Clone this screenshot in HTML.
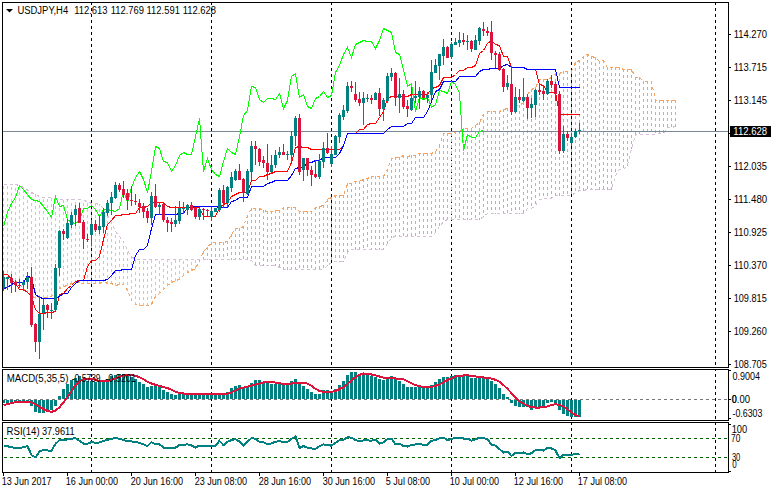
<!DOCTYPE html><html><head><meta charset="utf-8"><style>html,body{margin:0;padding:0;background:#fff;width:771px;height:493px;overflow:hidden;}svg text{font-family:"Liberation Sans",sans-serif;}</style></head><body><svg width="771" height="493" viewBox="0 0 771 493" style="position:absolute;left:0;top:0">
<defs><clipPath id="cm"><rect x="3" y="3" width="725" height="364"/></clipPath><clipPath id="cd"><rect x="3" y="370" width="725" height="50"/></clipPath><clipPath id="cr"><rect x="3" y="423" width="725" height="49"/></clipPath></defs>
<g stroke="#000" stroke-width="1" stroke-dasharray="3 3" shape-rendering="crispEdges"><line x1="91.5" y1="2" x2="91.5" y2="367" stroke-dashoffset="0"/><line x1="91.5" y1="370" x2="91.5" y2="420" stroke-dashoffset="2"/><line x1="91.5" y1="423" x2="91.5" y2="472" stroke-dashoffset="1"/><line x1="211.5" y1="2" x2="211.5" y2="367" stroke-dashoffset="0"/><line x1="211.5" y1="370" x2="211.5" y2="420" stroke-dashoffset="2"/><line x1="211.5" y1="423" x2="211.5" y2="472" stroke-dashoffset="1"/><line x1="331.5" y1="2" x2="331.5" y2="367" stroke-dashoffset="0"/><line x1="331.5" y1="370" x2="331.5" y2="420" stroke-dashoffset="2"/><line x1="331.5" y1="423" x2="331.5" y2="472" stroke-dashoffset="1"/><line x1="451.5" y1="2" x2="451.5" y2="367" stroke-dashoffset="0"/><line x1="451.5" y1="370" x2="451.5" y2="420" stroke-dashoffset="2"/><line x1="451.5" y1="423" x2="451.5" y2="472" stroke-dashoffset="1"/><line x1="571.5" y1="2" x2="571.5" y2="367" stroke-dashoffset="0"/><line x1="571.5" y1="370" x2="571.5" y2="420" stroke-dashoffset="2"/><line x1="571.5" y1="423" x2="571.5" y2="472" stroke-dashoffset="1"/><line x1="715.5" y1="2" x2="715.5" y2="367" stroke-dashoffset="0"/><line x1="715.5" y1="370" x2="715.5" y2="420" stroke-dashoffset="2"/><line x1="715.5" y1="423" x2="715.5" y2="472" stroke-dashoffset="1"/></g>
<g clip-path="url(#cm)">
<path d="M203.5 251V260M207.5 247V260M211.5 242V260M215.5 242V260M219.5 242V260M223.5 242V260M227.5 241V260M231.5 234V260M235.5 228V260M239.5 228V260M243.5 226V260M247.5 215V260M251.5 208V261M255.5 208V266M259.5 208V266M263.5 210V266M267.5 211V266M271.5 211V266M275.5 210V266M279.5 210V268M283.5 207V270M287.5 207V270M291.5 207V270M295.5 207V270M299.5 211V270M303.5 211V270M307.5 211V270M311.5 211V270M315.5 207V270M319.5 206V270M323.5 205V270M327.5 199V266M331.5 197V263M335.5 195V262M339.5 195V262M343.5 195V262M347.5 183V253M351.5 183V250M355.5 181V250M359.5 181V250M363.5 179V250M367.5 178V250M371.5 176V250M375.5 176V250M379.5 176V250M383.5 176V250M387.5 169V244M391.5 158V238M395.5 157V237M399.5 157V237M403.5 155V237M407.5 156V237M411.5 155V237M415.5 155V237M419.5 153V237M423.5 153V237M427.5 153V237M431.5 153V237M435.5 151V233M439.5 145V227M443.5 133V222M447.5 133V220M451.5 133V220M455.5 131V220M459.5 131V220M463.5 128V220M467.5 128V220M471.5 128V220M475.5 125V220M479.5 122V220M483.5 114V217M487.5 111V214M491.5 111V214M495.5 111V214M499.5 111V214M503.5 109V214M507.5 108V214M511.5 106V214M515.5 105V214M519.5 105V214M523.5 102V214M527.5 94V209M531.5 89V209M535.5 87V206M539.5 79V200M543.5 79V199M547.5 79V199M551.5 77V199M555.5 73V196M559.5 73V196M563.5 71V196M567.5 71V196M571.5 71V196M575.5 62V193M579.5 60V191M583.5 56V191M587.5 54V190M591.5 56V190M595.5 57V190M599.5 61V190M603.5 60V190M607.5 67V190M611.5 67V190M615.5 67V176M619.5 67V170M623.5 69V170M627.5 69V166M631.5 69V149M635.5 77V135M639.5 77V135M643.5 81V135M647.5 81V135M651.5 81V135M655.5 100V135M659.5 100V134M663.5 100V134M667.5 100V128M671.5 100V128M675.5 100V127" stroke="#F4A460" stroke-width="1" stroke-dasharray="3 3" fill="none" shape-rendering="crispEdges"/>
<path d="M3.5 279V184M7.5 279V184M11.5 280V184M15.5 281V184M19.5 285V185M23.5 289V187M27.5 293V189M31.5 296V192M35.5 299V194M39.5 298V196M43.5 298V197M47.5 298V197M51.5 297V197M55.5 293V199M59.5 289V199M63.5 287V199M67.5 286V199M71.5 284V199M75.5 283V199M79.5 283V199M83.5 284V200M87.5 284V201M91.5 284V203M95.5 284V203M99.5 284V204M103.5 282V208M107.5 284V215M111.5 284V222M115.5 286V231M119.5 285V236M123.5 285V241M127.5 291V250M131.5 301V256M135.5 305V259M139.5 306V259M143.5 306V259M147.5 306V259M151.5 305V259M155.5 297V259M159.5 294V259M163.5 290V259M167.5 286V259M171.5 283V259M175.5 281V259M179.5 280V259M183.5 276V259M187.5 273V259M191.5 271V259M195.5 269V259M199.5 261V259" stroke="#D8BFD8" stroke-width="1" stroke-dasharray="3 3" fill="none" shape-rendering="crispEdges"/>
<polyline points="3.5,278.5 7.5,278.5 11.5,279.5 15.5,280.5 19.5,284.5 23.5,288.5 27.5,292.5 31.5,295.5 35.5,298.5 39.5,297.5 43.5,297.5 47.5,297.5 51.5,296.5 55.5,292.5 59.5,288.5 63.5,286.5 67.5,285.5 71.5,283.5 75.5,282.5 79.5,282.5 83.5,283.5 87.5,283.5 91.5,283.5 95.5,283.5 99.5,283.5 103.5,281.5 107.5,283.5 111.5,283.5 115.5,285.5 119.5,284.5 123.5,284.5 127.5,290.5 131.5,300.5 135.5,304.5 139.5,305.5 143.5,305.5 147.5,305.5 151.5,304.5 155.5,296.5 159.5,293.5 163.5,289.5 167.5,285.5 171.5,282.5 175.5,280.5 179.5,279.5 183.5,275.5 187.5,272.5 191.5,270.5 195.5,268.5 199.5,260.5 203.5,251.5 207.5,247.5 211.5,242.5 215.5,242.5 219.5,242.5 223.5,242.5 227.5,241.5 231.5,234.5 235.5,228.5 239.5,228.5 243.5,226.5 247.5,215.5 251.5,208.5 255.5,208.5 259.5,208.5 263.5,210.5 267.5,211.5 271.5,211.5 275.5,210.5 279.5,210.5 283.5,207.5 287.5,207.5 291.5,207.5 295.5,207.5 299.5,211.5 303.5,211.5 307.5,211.5 311.5,211.5 315.5,207.5 319.5,206.5 323.5,205.5 327.5,199.5 331.5,197.5 335.5,195.5 339.5,195.5 343.5,195.5 347.5,183.5 351.5,183.5 355.5,181.5 359.5,181.5 363.5,179.5 367.5,178.5 371.5,176.5 375.5,176.5 379.5,176.5 383.5,176.5 387.5,169.5 391.5,158.5 395.5,157.5 399.5,157.5 403.5,155.5 407.5,156.5 411.5,155.5 415.5,155.5 419.5,153.5 423.5,153.5 427.5,153.5 431.5,153.5 435.5,151.5 439.5,145.5 443.5,133.5 447.5,133.5 451.5,133.5 455.5,131.5 459.5,131.5 463.5,128.5 467.5,128.5 471.5,128.5 475.5,125.5 479.5,122.5 483.5,114.5 487.5,111.5 491.5,111.5 495.5,111.5 499.5,111.5 503.5,109.5 507.5,108.5 511.5,106.5 515.5,105.5 519.5,105.5 523.5,102.5 527.5,94.5 531.5,89.5 535.5,87.5 539.5,79.5 543.5,79.5 547.5,79.5 551.5,77.5 555.5,73.5 559.5,73.5 563.5,71.5 567.5,71.5 571.5,71.5 575.5,62.5 579.5,60.5 583.5,56.5 587.5,54.5 591.5,56.5 595.5,57.5 599.5,61.5 603.5,60.5 607.5,67.5 611.5,67.5 615.5,67.5 619.5,67.5 623.5,69.5 627.5,69.5 631.5,69.5 635.5,77.5 639.5,77.5 643.5,81.5 647.5,81.5 651.5,81.5 655.5,100.5 659.5,100.5 663.5,100.5 667.5,100.5 671.5,100.5 675.5,100.5" fill="none" stroke="#F4A460" stroke-width="1" stroke-dasharray="3 3" shape-rendering="crispEdges"/>
<polyline points="3.5,184.5 7.5,184.5 11.5,184.5 15.5,184.5 19.5,185.5 23.5,187.5 27.5,189.5 31.5,192.5 35.5,194.5 39.5,196.5 43.5,197.5 47.5,197.5 51.5,197.5 55.5,199.5 59.5,199.5 63.5,199.5 67.5,199.5 71.5,199.5 75.5,199.5 79.5,199.5 83.5,200.5 87.5,201.5 91.5,203.5 95.5,203.5 99.5,204.5 103.5,208.5 107.5,215.5 111.5,222.5 115.5,231.5 119.5,236.5 123.5,241.5 127.5,250.5 131.5,256.5 135.5,259.5 139.5,259.5 143.5,259.5 147.5,259.5 151.5,259.5 155.5,259.5 159.5,259.5 163.5,259.5 167.5,259.5 171.5,259.5 175.5,259.5 179.5,259.5 183.5,259.5 187.5,259.5 191.5,259.5 195.5,259.5 199.5,259.5 203.5,259.5 207.5,259.5 211.5,259.5 215.5,259.5 219.5,259.5 223.5,259.5 227.5,259.5 231.5,259.5 235.5,259.5 239.5,259.5 243.5,259.5 247.5,259.5 251.5,260.5 255.5,265.5 259.5,265.5 263.5,265.5 267.5,265.5 271.5,265.5 275.5,265.5 279.5,267.5 283.5,269.5 287.5,269.5 291.5,269.5 295.5,269.5 299.5,269.5 303.5,269.5 307.5,269.5 311.5,269.5 315.5,269.5 319.5,269.5 323.5,269.5 327.5,265.5 331.5,262.5 335.5,261.5 339.5,261.5 343.5,261.5 347.5,252.5 351.5,249.5 355.5,249.5 359.5,249.5 363.5,249.5 367.5,249.5 371.5,249.5 375.5,249.5 379.5,249.5 383.5,249.5 387.5,243.5 391.5,237.5 395.5,236.5 399.5,236.5 403.5,236.5 407.5,236.5 411.5,236.5 415.5,236.5 419.5,236.5 423.5,236.5 427.5,236.5 431.5,236.5 435.5,232.5 439.5,226.5 443.5,221.5 447.5,219.5 451.5,219.5 455.5,219.5 459.5,219.5 463.5,219.5 467.5,219.5 471.5,219.5 475.5,219.5 479.5,219.5 483.5,216.5 487.5,213.5 491.5,213.5 495.5,213.5 499.5,213.5 503.5,213.5 507.5,213.5 511.5,213.5 515.5,213.5 519.5,213.5 523.5,213.5 527.5,208.5 531.5,208.5 535.5,205.5 539.5,199.5 543.5,198.5 547.5,198.5 551.5,198.5 555.5,195.5 559.5,195.5 563.5,195.5 567.5,195.5 571.5,195.5 575.5,192.5 579.5,190.5 583.5,190.5 587.5,189.5 591.5,189.5 595.5,189.5 599.5,189.5 603.5,189.5 607.5,189.5 611.5,189.5 615.5,175.5 619.5,169.5 623.5,169.5 627.5,165.5 631.5,148.5 635.5,134.5 639.5,134.5 643.5,134.5 647.5,134.5 651.5,134.5 655.5,134.5 659.5,133.5 663.5,133.5 667.5,127.5 671.5,127.5 675.5,126.5" fill="none" stroke="#D8BFD8" stroke-width="1" stroke-dasharray="3 3" shape-rendering="crispEdges"/>
<line x1="3" y1="131.5" x2="728" y2="131.5" stroke="#778899" stroke-width="1" shape-rendering="crispEdges"/>
<polyline points="3.5,274.5 7.5,274.5 11.5,279.5 15.5,283.5 19.5,289.5 23.5,289.5 27.5,292.5 31.5,296.5 35.5,309.5 39.5,313.5 43.5,313.5 47.5,312.5 51.5,312.5 55.5,311.5 59.5,294.5 63.5,293.5 67.5,288.5 71.5,285.5 75.5,281.5 79.5,280.5 83.5,280.5 87.5,266.5 91.5,260.5 95.5,260.5 99.5,256.5 103.5,239.5 107.5,224.5 111.5,220.5 115.5,215.5 119.5,215.5 123.5,214.5 127.5,214.5 131.5,213.5 135.5,213.5 139.5,207.5 143.5,207.5 147.5,206.5 151.5,202.5 155.5,202.5 159.5,202.5 163.5,202.5 167.5,206.5 171.5,207.5 175.5,207.5 179.5,207.5 183.5,207.5 187.5,207.5 191.5,207.5 195.5,207.5 199.5,207.5 203.5,216.5 207.5,216.5 211.5,216.5 215.5,216.5 219.5,207.5 223.5,204.5 227.5,202.5 231.5,196.5 235.5,194.5 239.5,192.5 243.5,192.5 247.5,192.5 251.5,180.5 255.5,180.5 259.5,176.5 263.5,176.5 267.5,174.5 271.5,173.5 275.5,171.5 279.5,171.5 283.5,171.5 287.5,171.5 291.5,162.5 295.5,147.5 299.5,146.5 303.5,147.5 307.5,147.5 311.5,149.5 315.5,149.5 319.5,149.5 323.5,149.5 327.5,149.5 331.5,149.5 335.5,149.5 339.5,149.5 343.5,145.5 347.5,133.5 351.5,133.5 355.5,133.5 359.5,129.5 363.5,129.5 367.5,124.5 371.5,123.5 375.5,123.5 379.5,117.5 383.5,111.5 387.5,98.5 391.5,96.5 395.5,96.5 399.5,96.5 403.5,96.5 407.5,96.5 411.5,94.5 415.5,94.5 419.5,94.5 423.5,94.5 427.5,94.5 431.5,88.5 435.5,87.5 439.5,85.5 443.5,77.5 447.5,77.5 451.5,77.5 455.5,74.5 459.5,70.5 463.5,70.5 467.5,67.5 471.5,67.5 475.5,65.5 479.5,53.5 483.5,50.5 487.5,43.5 491.5,40.5 495.5,44.5 499.5,45.5 503.5,56.5 507.5,56.5 511.5,67.5 515.5,67.5 519.5,67.5 523.5,67.5 527.5,69.5 531.5,69.5 535.5,69.5 539.5,84.5 543.5,85.5 547.5,92.5 551.5,92.5 555.5,92.5 559.5,114.5 563.5,114.5 567.5,114.5 571.5,114.5 575.5,114.5 579.5,114.5" fill="none" stroke="#FF0000" stroke-width="1" shape-rendering="crispEdges"/>
<polyline points="3.5,288.5 7.5,287.5 11.5,284.5 15.5,282.5 19.5,282.5 23.5,282.5 27.5,275.5 31.5,278.5 35.5,294.5 39.5,297.5 43.5,298.5 47.5,298.5 51.5,298.5 55.5,298.5 59.5,296.5 63.5,293.5 67.5,293.5 71.5,287.5 75.5,283.5 79.5,280.5 83.5,280.5 87.5,280.5 91.5,280.5 95.5,280.5 99.5,280.5 103.5,280.5 107.5,279.5 111.5,275.5 115.5,270.5 119.5,270.5 123.5,269.5 127.5,269.5 131.5,269.5 135.5,255.5 139.5,249.5 143.5,249.5 147.5,245.5 151.5,228.5 155.5,214.5 159.5,214.5 163.5,214.5 167.5,214.5 171.5,214.5 175.5,214.5 179.5,213.5 183.5,213.5 187.5,207.5 191.5,207.5 195.5,206.5 199.5,206.5 203.5,206.5 207.5,206.5 211.5,206.5 215.5,206.5 219.5,207.5 223.5,207.5 227.5,207.5 231.5,201.5 235.5,200.5 239.5,197.5 243.5,197.5 247.5,197.5 251.5,186.5 255.5,186.5 259.5,186.5 263.5,186.5 267.5,183.5 271.5,182.5 275.5,180.5 279.5,180.5 283.5,180.5 287.5,180.5 291.5,175.5 295.5,168.5 299.5,167.5 303.5,167.5 307.5,162.5 311.5,162.5 315.5,160.5 319.5,160.5 323.5,157.5 327.5,157.5 331.5,157.5 335.5,157.5 339.5,153.5 343.5,145.5 347.5,133.5 351.5,133.5 355.5,133.5 359.5,133.5 363.5,133.5 367.5,133.5 371.5,133.5 375.5,133.5 379.5,133.5 383.5,133.5 387.5,129.5 391.5,126.5 395.5,126.5 399.5,126.5 403.5,126.5 407.5,123.5 411.5,123.5 415.5,117.5 419.5,117.5 423.5,117.5 427.5,111.5 431.5,101.5 435.5,91.5 439.5,89.5 443.5,81.5 447.5,81.5 451.5,81.5 455.5,81.5 459.5,76.5 463.5,76.5 467.5,76.5 471.5,76.5 475.5,76.5 479.5,71.5 483.5,69.5 487.5,69.5 491.5,68.5 495.5,68.5 499.5,68.5 503.5,65.5 507.5,64.5 511.5,67.5 515.5,67.5 519.5,67.5 523.5,67.5 527.5,69.5 531.5,69.5 535.5,69.5 539.5,69.5 543.5,69.5 547.5,69.5 551.5,69.5 555.5,69.5 559.5,87.5 563.5,87.5 567.5,87.5 571.5,87.5 575.5,87.5 579.5,87.5" fill="none" stroke="#0000FF" stroke-width="1" shape-rendering="crispEdges"/>
<polyline points="3.5,226.5 7.5,212.5 11.5,203.5 15.5,197.5 19.5,185.5 23.5,189.5 27.5,194.5 31.5,199.5 35.5,200.5 39.5,201.5 43.5,206.5 47.5,211.5 51.5,217.5 55.5,196.5 59.5,206.5 63.5,205.5 67.5,219.5 71.5,222.5 75.5,223.5 79.5,220.5 83.5,208.5 87.5,208.5 91.5,205.5 95.5,209.5 99.5,216.5 103.5,209.5 107.5,209.5 111.5,210.5 115.5,211.5 119.5,208.5 123.5,190.5 127.5,202.5 131.5,187.5 135.5,177.5 139.5,171.5 143.5,179.5 147.5,192.5 151.5,171.5 155.5,146.5 159.5,148.5 163.5,161.5 167.5,162.5 171.5,171.5 175.5,165.5 179.5,155.5 183.5,152.5 187.5,154.5 191.5,154.5 195.5,136.5 199.5,118.5 203.5,171.5 207.5,158.5 211.5,169.5 215.5,174.5 219.5,176.5 223.5,161.5 227.5,148.5 231.5,152.5 235.5,154.5 239.5,136.5 243.5,115.5 247.5,110.5 251.5,86.5 255.5,87.5 259.5,99.5 263.5,102.5 267.5,98.5 271.5,98.5 275.5,99.5 279.5,93.5 283.5,108.5 287.5,100.5 291.5,76.5 295.5,73.5 299.5,97.5 303.5,94.5 307.5,106.5 311.5,108.5 315.5,98.5 319.5,96.5 323.5,91.5 327.5,97.5 331.5,95.5 335.5,72.5 339.5,65.5 343.5,54.5 347.5,47.5 351.5,57.5 355.5,44.5 359.5,42.5 363.5,40.5 367.5,41.5 371.5,41.5 375.5,48.5 379.5,40.5 383.5,28.5 387.5,30.5 391.5,32.5 395.5,52.5 399.5,54.5 403.5,69.5 407.5,86.5 411.5,83.5 415.5,111.5 419.5,97.5 423.5,99.5 427.5,97.5 431.5,107.5 435.5,104.5 439.5,90.5 443.5,91.5 447.5,93.5 451.5,81.5 455.5,84.5 459.5,93.5 463.5,150.5 467.5,134.5 471.5,137.5 475.5,137.5 479.5,131.5 483.5,130.5" fill="none" stroke="#00FF00" stroke-width="1" shape-rendering="crispEdges"/>
<g shape-rendering="crispEdges"><rect x="3" y="271" width="1" height="20" fill="#008080"/><rect x="2" y="277" width="3" height="11" fill="#008080"/><rect x="7" y="277" width="1" height="13" fill="#008080"/><rect x="6" y="277" width="3" height="2" fill="#008080"/><rect x="11" y="274" width="1" height="19" fill="#DC143C"/><rect x="10" y="278" width="3" height="5" fill="#DC143C"/><rect x="15" y="280" width="1" height="12" fill="#DC143C"/><rect x="14" y="282" width="3" height="3" fill="#DC143C"/><rect x="19" y="279" width="1" height="9" fill="#DC143C"/><rect x="18" y="285" width="3" height="1" fill="#DC143C"/><rect x="23" y="280" width="1" height="11" fill="#008080"/><rect x="22" y="282" width="3" height="3" fill="#008080"/><rect x="27" y="272" width="1" height="17" fill="#008080"/><rect x="26" y="277" width="3" height="5" fill="#008080"/><rect x="31" y="267" width="1" height="60" fill="#DC143C"/><rect x="30" y="277" width="3" height="48" fill="#DC143C"/><rect x="35" y="323" width="1" height="29" fill="#DC143C"/><rect x="34" y="324" width="3" height="18" fill="#DC143C"/><rect x="39" y="296" width="1" height="63" fill="#008080"/><rect x="38" y="314" width="3" height="28" fill="#008080"/><rect x="43" y="299" width="1" height="31" fill="#008080"/><rect x="42" y="305" width="3" height="8" fill="#008080"/><rect x="47" y="304" width="1" height="14" fill="#DC143C"/><rect x="46" y="305" width="3" height="5" fill="#DC143C"/><rect x="51" y="303" width="1" height="16" fill="#008080"/><rect x="50" y="310" width="3" height="1" fill="#008080"/><rect x="55" y="264" width="1" height="47" fill="#008080"/><rect x="54" y="268" width="3" height="42" fill="#008080"/><rect x="59" y="230" width="1" height="46" fill="#008080"/><rect x="58" y="231" width="3" height="37" fill="#008080"/><rect x="63" y="229" width="1" height="11" fill="#DC143C"/><rect x="62" y="231" width="3" height="3" fill="#DC143C"/><rect x="67" y="219" width="1" height="20" fill="#008080"/><rect x="66" y="223" width="3" height="15" fill="#008080"/><rect x="71" y="212" width="1" height="16" fill="#008080"/><rect x="70" y="215" width="3" height="10" fill="#008080"/><rect x="75" y="205" width="1" height="21" fill="#008080"/><rect x="74" y="209" width="3" height="6" fill="#008080"/><rect x="79" y="203" width="1" height="20" fill="#DC143C"/><rect x="78" y="208" width="3" height="15" fill="#DC143C"/><rect x="83" y="220" width="1" height="29" fill="#DC143C"/><rect x="82" y="222" width="3" height="17" fill="#DC143C"/><rect x="87" y="234" width="1" height="8" fill="#DC143C"/><rect x="86" y="239" width="3" height="1" fill="#DC143C"/><rect x="91" y="220" width="1" height="26" fill="#008080"/><rect x="90" y="224" width="3" height="11" fill="#008080"/><rect x="95" y="220" width="1" height="12" fill="#DC143C"/><rect x="94" y="224" width="3" height="6" fill="#DC143C"/><rect x="99" y="215" width="1" height="19" fill="#008080"/><rect x="98" y="226" width="3" height="4" fill="#008080"/><rect x="103" y="208" width="1" height="25" fill="#008080"/><rect x="102" y="212" width="3" height="15" fill="#008080"/><rect x="107" y="200" width="1" height="16" fill="#008080"/><rect x="106" y="203" width="3" height="10" fill="#008080"/><rect x="111" y="192" width="1" height="23" fill="#008080"/><rect x="110" y="197" width="3" height="6" fill="#008080"/><rect x="115" y="182" width="1" height="17" fill="#008080"/><rect x="114" y="185" width="3" height="13" fill="#008080"/><rect x="119" y="183" width="1" height="9" fill="#DC143C"/><rect x="118" y="185" width="3" height="5" fill="#DC143C"/><rect x="123" y="181" width="1" height="17" fill="#DC143C"/><rect x="122" y="189" width="3" height="6" fill="#DC143C"/><rect x="127" y="189" width="1" height="21" fill="#DC143C"/><rect x="126" y="193" width="3" height="7" fill="#DC143C"/><rect x="131" y="186" width="1" height="20" fill="#DC143C"/><rect x="130" y="200" width="3" height="1" fill="#DC143C"/><rect x="135" y="194" width="1" height="11" fill="#DC143C"/><rect x="134" y="201" width="3" height="1" fill="#DC143C"/><rect x="139" y="199" width="1" height="14" fill="#DC143C"/><rect x="138" y="203" width="3" height="4" fill="#DC143C"/><rect x="143" y="203" width="1" height="15" fill="#DC143C"/><rect x="142" y="206" width="3" height="6" fill="#DC143C"/><rect x="147" y="208" width="1" height="15" fill="#DC143C"/><rect x="146" y="211" width="3" height="7" fill="#DC143C"/><rect x="151" y="192" width="1" height="33" fill="#008080"/><rect x="150" y="196" width="3" height="22" fill="#008080"/><rect x="155" y="184" width="1" height="24" fill="#DC143C"/><rect x="154" y="196" width="3" height="11" fill="#DC143C"/><rect x="159" y="202" width="1" height="13" fill="#008080"/><rect x="158" y="205" width="3" height="2" fill="#008080"/><rect x="163" y="203" width="1" height="19" fill="#DC143C"/><rect x="162" y="204" width="3" height="16" fill="#DC143C"/><rect x="167" y="217" width="1" height="15" fill="#DC143C"/><rect x="166" y="220" width="3" height="3" fill="#DC143C"/><rect x="171" y="218" width="1" height="14" fill="#DC143C"/><rect x="170" y="222" width="3" height="2" fill="#DC143C"/><rect x="175" y="206" width="1" height="21" fill="#008080"/><rect x="174" y="220" width="3" height="4" fill="#008080"/><rect x="179" y="201" width="1" height="23" fill="#008080"/><rect x="178" y="208" width="3" height="13" fill="#008080"/><rect x="183" y="202" width="1" height="12" fill="#008080"/><rect x="182" y="208" width="3" height="1" fill="#008080"/><rect x="187" y="204" width="1" height="11" fill="#008080"/><rect x="186" y="205" width="3" height="5" fill="#008080"/><rect x="191" y="202" width="1" height="9" fill="#DC143C"/><rect x="190" y="205" width="3" height="5" fill="#DC143C"/><rect x="195" y="208" width="1" height="11" fill="#DC143C"/><rect x="194" y="208" width="3" height="9" fill="#DC143C"/><rect x="199" y="208" width="1" height="12" fill="#008080"/><rect x="198" y="209" width="3" height="8" fill="#008080"/><rect x="203" y="208" width="1" height="12" fill="#DC143C"/><rect x="202" y="209" width="3" height="1" fill="#DC143C"/><rect x="207" y="209" width="1" height="7" fill="#DC143C"/><rect x="206" y="210" width="3" height="1" fill="#DC143C"/><rect x="211" y="207" width="1" height="14" fill="#008080"/><rect x="210" y="211" width="3" height="6" fill="#008080"/><rect x="215" y="208" width="1" height="4" fill="#008080"/><rect x="214" y="208" width="3" height="4" fill="#008080"/><rect x="219" y="188" width="1" height="24" fill="#008080"/><rect x="218" y="190" width="3" height="20" fill="#008080"/><rect x="223" y="185" width="1" height="23" fill="#DC143C"/><rect x="222" y="190" width="3" height="13" fill="#DC143C"/><rect x="227" y="186" width="1" height="21" fill="#008080"/><rect x="226" y="187" width="3" height="16" fill="#008080"/><rect x="231" y="172" width="1" height="20" fill="#008080"/><rect x="230" y="177" width="3" height="11" fill="#008080"/><rect x="235" y="169" width="1" height="12" fill="#008080"/><rect x="234" y="171" width="3" height="9" fill="#008080"/><rect x="239" y="164" width="1" height="16" fill="#DC143C"/><rect x="238" y="171" width="3" height="9" fill="#DC143C"/><rect x="243" y="178" width="1" height="24" fill="#DC143C"/><rect x="242" y="179" width="3" height="14" fill="#DC143C"/><rect x="247" y="169" width="1" height="26" fill="#008080"/><rect x="246" y="171" width="3" height="23" fill="#008080"/><rect x="251" y="141" width="1" height="39" fill="#008080"/><rect x="250" y="146" width="3" height="26" fill="#008080"/><rect x="255" y="141" width="1" height="24" fill="#DC143C"/><rect x="254" y="146" width="3" height="3" fill="#DC143C"/><rect x="259" y="148" width="1" height="18" fill="#DC143C"/><rect x="258" y="149" width="3" height="13" fill="#DC143C"/><rect x="263" y="156" width="1" height="12" fill="#DC143C"/><rect x="262" y="160" width="3" height="3" fill="#DC143C"/><rect x="267" y="144" width="1" height="36" fill="#DC143C"/><rect x="266" y="163" width="3" height="9" fill="#DC143C"/><rect x="271" y="155" width="1" height="18" fill="#008080"/><rect x="270" y="165" width="3" height="7" fill="#008080"/><rect x="275" y="150" width="1" height="18" fill="#008080"/><rect x="274" y="155" width="3" height="10" fill="#008080"/><rect x="279" y="147" width="1" height="11" fill="#008080"/><rect x="278" y="152" width="3" height="3" fill="#008080"/><rect x="283" y="144" width="1" height="11" fill="#DC143C"/><rect x="282" y="152" width="3" height="3" fill="#DC143C"/><rect x="287" y="151" width="1" height="9" fill="#008080"/><rect x="286" y="154" width="3" height="1" fill="#008080"/><rect x="291" y="131" width="1" height="30" fill="#008080"/><rect x="290" y="136" width="3" height="19" fill="#008080"/><rect x="295" y="116" width="1" height="30" fill="#008080"/><rect x="294" y="118" width="3" height="18" fill="#008080"/><rect x="299" y="114" width="1" height="61" fill="#DC143C"/><rect x="298" y="118" width="3" height="54" fill="#DC143C"/><rect x="303" y="158" width="1" height="23" fill="#008080"/><rect x="302" y="158" width="3" height="12" fill="#008080"/><rect x="307" y="158" width="1" height="18" fill="#DC143C"/><rect x="306" y="158" width="3" height="12" fill="#DC143C"/><rect x="311" y="166" width="1" height="20" fill="#DC143C"/><rect x="310" y="170" width="3" height="5" fill="#DC143C"/><rect x="315" y="160" width="1" height="18" fill="#DC143C"/><rect x="314" y="174" width="3" height="3" fill="#DC143C"/><rect x="319" y="154" width="1" height="25" fill="#008080"/><rect x="318" y="161" width="3" height="16" fill="#008080"/><rect x="323" y="142" width="1" height="26" fill="#008080"/><rect x="322" y="148" width="3" height="14" fill="#008080"/><rect x="327" y="133" width="1" height="21" fill="#DC143C"/><rect x="326" y="148" width="3" height="5" fill="#DC143C"/><rect x="331" y="146" width="1" height="21" fill="#008080"/><rect x="330" y="154" width="3" height="10" fill="#008080"/><rect x="335" y="135" width="1" height="20" fill="#008080"/><rect x="334" y="136" width="3" height="19" fill="#008080"/><rect x="339" y="113" width="1" height="30" fill="#008080"/><rect x="338" y="115" width="3" height="22" fill="#008080"/><rect x="343" y="105" width="1" height="15" fill="#008080"/><rect x="342" y="110" width="3" height="7" fill="#008080"/><rect x="347" y="82" width="1" height="31" fill="#008080"/><rect x="346" y="86" width="3" height="25" fill="#008080"/><rect x="351" y="81" width="1" height="11" fill="#DC143C"/><rect x="350" y="86" width="3" height="2" fill="#DC143C"/><rect x="355" y="82" width="1" height="20" fill="#DC143C"/><rect x="354" y="94" width="3" height="6" fill="#DC143C"/><rect x="359" y="92" width="1" height="14" fill="#DC143C"/><rect x="358" y="99" width="3" height="4" fill="#DC143C"/><rect x="363" y="92" width="1" height="33" fill="#008080"/><rect x="362" y="98" width="3" height="5" fill="#008080"/><rect x="367" y="94" width="1" height="8" fill="#008080"/><rect x="366" y="98" width="3" height="1" fill="#008080"/><rect x="371" y="95" width="1" height="9" fill="#DC143C"/><rect x="370" y="98" width="3" height="2" fill="#DC143C"/><rect x="375" y="92" width="1" height="8" fill="#008080"/><rect x="374" y="93" width="3" height="7" fill="#008080"/><rect x="379" y="88" width="1" height="28" fill="#DC143C"/><rect x="378" y="93" width="3" height="16" fill="#DC143C"/><rect x="383" y="98" width="1" height="23" fill="#008080"/><rect x="382" y="100" width="3" height="9" fill="#008080"/><rect x="387" y="73" width="1" height="30" fill="#008080"/><rect x="386" y="76" width="3" height="25" fill="#008080"/><rect x="391" y="68" width="1" height="13" fill="#008080"/><rect x="390" y="73" width="3" height="4" fill="#008080"/><rect x="395" y="72" width="1" height="34" fill="#DC143C"/><rect x="394" y="73" width="3" height="25" fill="#DC143C"/><rect x="399" y="78" width="1" height="35" fill="#008080"/><rect x="398" y="94" width="3" height="4" fill="#008080"/><rect x="403" y="90" width="1" height="19" fill="#DC143C"/><rect x="402" y="94" width="3" height="13" fill="#DC143C"/><rect x="407" y="100" width="1" height="17" fill="#DC143C"/><rect x="406" y="106" width="3" height="3" fill="#DC143C"/><rect x="411" y="87" width="1" height="24" fill="#008080"/><rect x="410" y="98" width="3" height="12" fill="#008080"/><rect x="415" y="81" width="1" height="22" fill="#008080"/><rect x="414" y="96" width="3" height="2" fill="#008080"/><rect x="419" y="87" width="1" height="22" fill="#008080"/><rect x="418" y="91" width="3" height="6" fill="#008080"/><rect x="423" y="90" width="1" height="10" fill="#DC143C"/><rect x="422" y="91" width="3" height="7" fill="#DC143C"/><rect x="427" y="92" width="1" height="11" fill="#008080"/><rect x="426" y="95" width="3" height="3" fill="#008080"/><rect x="431" y="60" width="1" height="40" fill="#008080"/><rect x="430" y="72" width="3" height="23" fill="#008080"/><rect x="435" y="59" width="1" height="14" fill="#008080"/><rect x="434" y="65" width="3" height="8" fill="#008080"/><rect x="439" y="54" width="1" height="26" fill="#008080"/><rect x="438" y="54" width="3" height="12" fill="#008080"/><rect x="443" y="39" width="1" height="26" fill="#008080"/><rect x="442" y="47" width="3" height="9" fill="#008080"/><rect x="447" y="46" width="1" height="12" fill="#DC143C"/><rect x="446" y="47" width="3" height="11" fill="#DC143C"/><rect x="451" y="42" width="1" height="17" fill="#008080"/><rect x="450" y="44" width="3" height="13" fill="#008080"/><rect x="455" y="38" width="1" height="7" fill="#008080"/><rect x="454" y="42" width="3" height="3" fill="#008080"/><rect x="459" y="32" width="1" height="15" fill="#008080"/><rect x="458" y="40" width="3" height="3" fill="#008080"/><rect x="463" y="33" width="1" height="12" fill="#DC143C"/><rect x="462" y="40" width="3" height="2" fill="#DC143C"/><rect x="467" y="35" width="1" height="15" fill="#008080"/><rect x="466" y="41" width="3" height="1" fill="#008080"/><rect x="471" y="40" width="1" height="12" fill="#DC143C"/><rect x="470" y="41" width="3" height="8" fill="#DC143C"/><rect x="475" y="35" width="1" height="15" fill="#008080"/><rect x="474" y="40" width="3" height="10" fill="#008080"/><rect x="479" y="27" width="1" height="18" fill="#008080"/><rect x="478" y="28" width="3" height="13" fill="#008080"/><rect x="483" y="22" width="1" height="14" fill="#DC143C"/><rect x="482" y="29" width="3" height="2" fill="#DC143C"/><rect x="487" y="27" width="1" height="9" fill="#DC143C"/><rect x="486" y="31" width="3" height="2" fill="#DC143C"/><rect x="491" y="21" width="1" height="39" fill="#DC143C"/><rect x="490" y="32" width="3" height="21" fill="#DC143C"/><rect x="495" y="51" width="1" height="17" fill="#DC143C"/><rect x="494" y="53" width="3" height="2" fill="#DC143C"/><rect x="499" y="52" width="1" height="19" fill="#DC143C"/><rect x="498" y="54" width="3" height="16" fill="#DC143C"/><rect x="503" y="68" width="1" height="24" fill="#DC143C"/><rect x="502" y="69" width="3" height="18" fill="#DC143C"/><rect x="507" y="75" width="1" height="15" fill="#008080"/><rect x="506" y="83" width="3" height="4" fill="#008080"/><rect x="511" y="66" width="1" height="49" fill="#DC143C"/><rect x="510" y="84" width="3" height="28" fill="#DC143C"/><rect x="515" y="87" width="1" height="26" fill="#008080"/><rect x="514" y="97" width="3" height="15" fill="#008080"/><rect x="519" y="89" width="1" height="14" fill="#DC143C"/><rect x="518" y="97" width="3" height="3" fill="#DC143C"/><rect x="523" y="78" width="1" height="24" fill="#008080"/><rect x="522" y="97" width="3" height="4" fill="#008080"/><rect x="527" y="94" width="1" height="25" fill="#DC143C"/><rect x="526" y="97" width="3" height="11" fill="#DC143C"/><rect x="531" y="98" width="1" height="20" fill="#008080"/><rect x="530" y="104" width="3" height="4" fill="#008080"/><rect x="535" y="89" width="1" height="28" fill="#008080"/><rect x="534" y="90" width="3" height="15" fill="#008080"/><rect x="539" y="83" width="1" height="12" fill="#DC143C"/><rect x="538" y="90" width="3" height="2" fill="#DC143C"/><rect x="543" y="86" width="1" height="14" fill="#DC143C"/><rect x="542" y="91" width="3" height="3" fill="#DC143C"/><rect x="547" y="79" width="1" height="16" fill="#008080"/><rect x="546" y="81" width="3" height="13" fill="#008080"/><rect x="551" y="75" width="1" height="13" fill="#DC143C"/><rect x="550" y="81" width="3" height="4" fill="#DC143C"/><rect x="555" y="82" width="1" height="19" fill="#DC143C"/><rect x="554" y="84" width="3" height="10" fill="#DC143C"/><rect x="559" y="91" width="1" height="63" fill="#DC143C"/><rect x="558" y="94" width="3" height="57" fill="#DC143C"/><rect x="563" y="126" width="1" height="27" fill="#008080"/><rect x="562" y="134" width="3" height="17" fill="#008080"/><rect x="567" y="131" width="1" height="10" fill="#DC143C"/><rect x="566" y="134" width="3" height="4" fill="#DC143C"/><rect x="571" y="133" width="1" height="13" fill="#008080"/><rect x="570" y="137" width="3" height="6" fill="#008080"/><rect x="575" y="129" width="1" height="9" fill="#008080"/><rect x="574" y="131" width="3" height="6" fill="#008080"/><rect x="579" y="123" width="1" height="11" fill="#008080"/><rect x="578" y="130" width="3" height="1" fill="#008080"/></g>
</g>
<g clip-path="url(#cd)">
<line x1="4" y1="399.5" x2="728" y2="399.5" stroke="#777" stroke-dasharray="3 3" shape-rendering="crispEdges"/>
<g fill="#008080" shape-rendering="crispEdges"><rect x="2" y="400" width="3" height="3"/><rect x="6" y="400" width="3" height="3"/><rect x="10" y="400" width="3" height="2"/><rect x="14" y="400" width="3" height="1"/><rect x="18" y="400" width="3" height="1"/><rect x="22" y="400" width="3" height="1"/><rect x="26" y="400" width="3" height="2"/><rect x="30" y="400" width="3" height="6"/><rect x="34" y="400" width="3" height="12"/><rect x="38" y="400" width="3" height="13"/><rect x="42" y="400" width="3" height="13"/><rect x="46" y="400" width="3" height="11"/><rect x="50" y="400" width="3" height="10"/><rect x="54" y="400" width="3" height="6"/><rect x="58" y="396" width="3" height="3"/><rect x="62" y="389" width="3" height="10"/><rect x="66" y="384" width="3" height="15"/><rect x="70" y="380" width="3" height="19"/><rect x="74" y="378" width="3" height="21"/><rect x="78" y="376" width="3" height="23"/><rect x="82" y="379" width="3" height="20"/><rect x="86" y="381" width="3" height="18"/><rect x="90" y="381" width="3" height="18"/><rect x="94" y="382" width="3" height="17"/><rect x="98" y="382" width="3" height="17"/><rect x="102" y="381" width="3" height="18"/><rect x="106" y="379" width="3" height="20"/><rect x="110" y="376" width="3" height="23"/><rect x="114" y="375" width="3" height="24"/><rect x="118" y="374" width="3" height="25"/><rect x="122" y="374" width="3" height="25"/><rect x="126" y="375" width="3" height="24"/><rect x="130" y="377" width="3" height="22"/><rect x="134" y="379" width="3" height="20"/><rect x="138" y="382" width="3" height="17"/><rect x="142" y="384" width="3" height="15"/><rect x="146" y="387" width="3" height="12"/><rect x="150" y="386" width="3" height="13"/><rect x="154" y="386" width="3" height="13"/><rect x="158" y="387" width="3" height="12"/><rect x="162" y="390" width="3" height="9"/><rect x="166" y="392" width="3" height="7"/><rect x="170" y="394" width="3" height="5"/><rect x="174" y="395" width="3" height="4"/><rect x="178" y="393" width="3" height="6"/><rect x="182" y="393" width="3" height="6"/><rect x="186" y="393" width="3" height="6"/><rect x="190" y="394" width="3" height="5"/><rect x="194" y="395" width="3" height="4"/><rect x="198" y="394" width="3" height="5"/><rect x="202" y="393" width="3" height="6"/><rect x="206" y="394" width="3" height="5"/><rect x="210" y="395" width="3" height="4"/><rect x="214" y="395" width="3" height="4"/><rect x="218" y="394" width="3" height="5"/><rect x="222" y="393" width="3" height="6"/><rect x="226" y="392" width="3" height="7"/><rect x="230" y="388" width="3" height="11"/><rect x="234" y="386" width="3" height="13"/><rect x="238" y="385" width="3" height="14"/><rect x="242" y="387" width="3" height="12"/><rect x="246" y="387" width="3" height="12"/><rect x="250" y="383" width="3" height="16"/><rect x="254" y="380" width="3" height="19"/><rect x="258" y="380" width="3" height="19"/><rect x="262" y="382" width="3" height="17"/><rect x="266" y="383" width="3" height="16"/><rect x="270" y="384" width="3" height="15"/><rect x="274" y="384" width="3" height="15"/><rect x="278" y="384" width="3" height="15"/><rect x="282" y="384" width="3" height="15"/><rect x="286" y="384" width="3" height="15"/><rect x="290" y="381" width="3" height="18"/><rect x="294" y="379" width="3" height="20"/><rect x="298" y="384" width="3" height="15"/><rect x="302" y="386" width="3" height="13"/><rect x="306" y="389" width="3" height="10"/><rect x="310" y="392" width="3" height="7"/><rect x="314" y="394" width="3" height="5"/><rect x="318" y="394" width="3" height="5"/><rect x="322" y="390" width="3" height="9"/><rect x="326" y="390" width="3" height="9"/><rect x="330" y="391" width="3" height="8"/><rect x="334" y="389" width="3" height="10"/><rect x="338" y="385" width="3" height="14"/><rect x="342" y="381" width="3" height="18"/><rect x="346" y="375" width="3" height="24"/><rect x="350" y="372" width="3" height="27"/><rect x="354" y="372" width="3" height="27"/><rect x="358" y="374" width="3" height="25"/><rect x="362" y="374" width="3" height="25"/><rect x="366" y="375" width="3" height="24"/><rect x="370" y="376" width="3" height="23"/><rect x="374" y="377" width="3" height="22"/><rect x="378" y="379" width="3" height="20"/><rect x="382" y="380" width="3" height="19"/><rect x="386" y="378" width="3" height="21"/><rect x="390" y="376" width="3" height="23"/><rect x="394" y="379" width="3" height="20"/><rect x="398" y="381" width="3" height="18"/><rect x="402" y="384" width="3" height="15"/><rect x="406" y="387" width="3" height="12"/><rect x="410" y="387" width="3" height="12"/><rect x="414" y="387" width="3" height="12"/><rect x="418" y="387" width="3" height="12"/><rect x="422" y="387" width="3" height="12"/><rect x="426" y="388" width="3" height="11"/><rect x="430" y="385" width="3" height="14"/><rect x="434" y="382" width="3" height="17"/><rect x="438" y="379" width="3" height="20"/><rect x="442" y="377" width="3" height="22"/><rect x="446" y="377" width="3" height="22"/><rect x="450" y="376" width="3" height="23"/><rect x="454" y="375" width="3" height="24"/><rect x="458" y="375" width="3" height="24"/><rect x="462" y="375" width="3" height="24"/><rect x="466" y="376" width="3" height="23"/><rect x="470" y="378" width="3" height="21"/><rect x="474" y="378" width="3" height="21"/><rect x="478" y="378" width="3" height="21"/><rect x="482" y="378" width="3" height="21"/><rect x="486" y="379" width="3" height="20"/><rect x="490" y="381" width="3" height="18"/><rect x="494" y="384" width="3" height="15"/><rect x="498" y="388" width="3" height="11"/><rect x="502" y="394" width="3" height="5"/><rect x="506" y="397" width="3" height="2"/><rect x="510" y="400" width="3" height="3"/><rect x="514" y="400" width="3" height="6"/><rect x="518" y="400" width="3" height="7"/><rect x="522" y="400" width="3" height="7"/><rect x="526" y="400" width="3" height="7"/><rect x="530" y="400" width="3" height="10"/><rect x="534" y="400" width="3" height="7"/><rect x="538" y="400" width="3" height="7"/><rect x="542" y="400" width="3" height="6"/><rect x="546" y="400" width="3" height="3"/><rect x="550" y="400" width="3" height="2"/><rect x="554" y="400" width="3" height="4"/><rect x="558" y="400" width="3" height="10"/><rect x="562" y="400" width="3" height="14"/><rect x="566" y="400" width="3" height="16"/><rect x="570" y="400" width="3" height="17"/><rect x="574" y="400" width="3" height="17"/><rect x="578" y="400" width="3" height="17"/></g>
<polyline points="3.5,405.0 7.5,404.1 11.5,403.0 15.5,402.3 19.5,402.2 23.5,401.7 27.5,401.6 31.5,402.3 35.5,404.4 39.5,406.8 43.5,409.1 47.5,411.0 51.5,411.8 55.5,410.7 59.5,407.2 63.5,402.4 67.5,397.1 71.5,391.0 75.5,385.4 79.5,381.4 83.5,379.3 87.5,378.7 91.5,378.9 95.5,379.7 99.5,380.9 103.5,381.3 107.5,380.8 111.5,379.8 115.5,378.4 119.5,376.8 123.5,375.5 127.5,374.7 131.5,374.8 135.5,375.8 139.5,377.3 143.5,379.3 147.5,381.8 151.5,383.5 155.5,384.8 159.5,385.9 163.5,387.1 167.5,388.1 171.5,389.8 175.5,391.6 179.5,392.9 183.5,393.5 187.5,393.8 191.5,393.8 195.5,393.8 199.5,393.9 203.5,393.9 207.5,394.1 211.5,394.3 215.5,394.3 219.5,394.3 223.5,394.1 227.5,393.7 231.5,392.3 235.5,390.5 239.5,388.7 243.5,387.6 247.5,386.6 251.5,385.7 255.5,384.5 259.5,383.5 263.5,382.4 267.5,381.7 271.5,381.8 275.5,382.6 279.5,383.4 283.5,383.8 287.5,384.0 291.5,383.5 295.5,382.5 299.5,382.5 303.5,382.8 307.5,383.7 311.5,385.8 315.5,388.8 319.5,390.9 323.5,391.8 327.5,392.1 331.5,392.0 335.5,390.9 339.5,389.0 343.5,387.2 347.5,384.0 351.5,380.2 355.5,377.0 359.5,374.8 363.5,373.5 367.5,373.6 371.5,374.5 375.5,375.3 379.5,376.5 383.5,377.7 387.5,378.2 391.5,378.1 395.5,378.5 399.5,378.7 403.5,379.4 407.5,381.2 411.5,383.4 415.5,385.0 419.5,386.2 423.5,386.9 427.5,387.2 431.5,386.8 435.5,385.9 439.5,384.4 443.5,382.2 447.5,380.0 451.5,378.2 455.5,376.7 459.5,375.7 463.5,375.5 467.5,375.3 471.5,375.8 475.5,376.4 479.5,377.0 483.5,377.5 487.5,378.0 491.5,378.6 495.5,379.8 499.5,381.8 503.5,385.1 507.5,388.8 511.5,393.2 515.5,397.5 519.5,401.3 523.5,403.8 527.5,405.8 531.5,407.2 535.5,407.5 539.5,407.5 543.5,407.4 547.5,406.4 551.5,404.9 555.5,404.2 559.5,404.9 563.5,406.6 567.5,409.2 571.5,412.4 575.5,415.0 579.5,416.5" fill="none" stroke="#DC143C" stroke-width="2" shape-rendering="crispEdges"/>
</g>
<g clip-path="url(#cr)">
<line x1="4" y1="438.5" x2="728" y2="438.5" stroke="#006400" stroke-dasharray="3 3" shape-rendering="crispEdges"/>
<line x1="4" y1="457.5" x2="728" y2="457.5" stroke="#006400" stroke-dasharray="3 3" shape-rendering="crispEdges"/>
<polyline points="3.5,446.2 7.5,446.2 11.5,447.3 15.5,447.8 19.5,448.0 23.5,447.3 27.5,446.0 31.5,455.2 35.5,457.3 39.5,451.5 43.5,449.9 47.5,450.5 51.5,450.6 55.5,443.9 59.5,440.0 63.5,440.4 67.5,439.4 71.5,438.7 75.5,438.2 79.5,440.8 83.5,443.7 87.5,443.8 91.5,442.0 95.5,442.9 99.5,442.5 103.5,440.8 107.5,439.8 111.5,439.1 115.5,437.8 119.5,438.8 123.5,440.0 127.5,441.2 131.5,441.5 135.5,441.7 139.5,443.1 143.5,444.4 147.5,446.0 151.5,442.1 155.5,444.5 159.5,444.3 163.5,447.6 167.5,448.2 171.5,448.5 175.5,447.7 179.5,445.0 183.5,444.9 187.5,444.3 191.5,445.5 195.5,447.5 199.5,445.7 203.5,445.7 207.5,446.1 211.5,446.4 215.5,445.5 219.5,440.9 223.5,445.1 227.5,441.8 231.5,440.0 235.5,439.1 239.5,441.6 243.5,445.2 247.5,441.5 251.5,438.2 255.5,438.7 259.5,442.0 263.5,442.2 267.5,444.4 271.5,443.3 275.5,441.7 279.5,441.3 283.5,441.8 287.5,441.8 291.5,438.9 295.5,436.6 299.5,447.9 303.5,446.0 307.5,447.7 311.5,448.5 315.5,448.8 319.5,446.3 323.5,444.4 327.5,445.2 331.5,445.6 335.5,442.9 339.5,440.3 343.5,439.8 347.5,437.4 351.5,437.6 355.5,440.3 359.5,440.9 363.5,440.4 367.5,440.4 371.5,440.7 375.5,439.8 379.5,443.7 383.5,442.4 387.5,439.1 391.5,438.8 395.5,444.2 399.5,443.7 403.5,446.1 407.5,446.5 411.5,444.8 415.5,444.5 419.5,443.6 423.5,445.0 427.5,444.7 431.5,440.8 435.5,439.9 439.5,438.4 443.5,437.6 447.5,440.3 451.5,438.6 455.5,438.4 459.5,438.1 463.5,438.5 467.5,438.5 471.5,440.8 475.5,439.4 479.5,437.6 483.5,438.3 487.5,439.0 491.5,445.1 495.5,445.6 499.5,449.2 503.5,452.5 507.5,451.7 511.5,456.0 515.5,452.7 519.5,453.0 523.5,452.5 527.5,454.1 531.5,453.3 535.5,450.0 539.5,450.2 543.5,450.6 547.5,447.7 551.5,448.4 555.5,450.3 559.5,458.2 563.5,454.8 567.5,455.1 571.5,455.1 575.5,453.8 579.5,453.6" fill="none" stroke="#008080" stroke-width="2" shape-rendering="crispEdges"/>
</g>
<g shape-rendering="crispEdges"><rect x="2.5" y="2.5" width="726" height="365" fill="none" stroke="#000"/><rect x="2.5" y="369.5" width="726" height="51" fill="none" stroke="#000"/><rect x="2.5" y="422.5" width="726" height="50" fill="none" stroke="#000"/></g>
<rect x="730" y="126" width="41" height="11" fill="#000" shape-rendering="crispEdges"/>
<g fill="#000" shape-rendering="crispEdges"><rect x="729" y="34" width="2" height="1"/><rect x="729" y="67" width="2" height="1"/><rect x="729" y="100" width="2" height="1"/><rect x="729" y="133" width="2" height="1"/><rect x="729" y="166" width="2" height="1"/><rect x="729" y="199" width="2" height="1"/><rect x="729" y="232" width="2" height="1"/><rect x="729" y="265" width="2" height="1"/><rect x="729" y="298" width="2" height="1"/><rect x="729" y="331" width="2" height="1"/><rect x="729" y="364" width="2" height="1"/><rect x="729" y="370" width="2" height="1"/><rect x="729" y="399" width="2" height="1"/><rect x="729" y="418" width="2" height="1"/><rect x="729" y="424" width="2" height="1"/><rect x="729" y="471" width="2" height="1"/><rect x="3" y="473" width="1" height="3"/><rect x="67" y="473" width="1" height="3"/><rect x="131" y="473" width="1" height="3"/><rect x="195" y="473" width="1" height="3"/><rect x="259" y="473" width="1" height="3"/><rect x="323" y="473" width="1" height="3"/><rect x="387" y="473" width="1" height="3"/><rect x="451" y="473" width="1" height="3"/><rect x="515" y="473" width="1" height="3"/><rect x="579" y="473" width="1" height="3"/></g>
<path d="M6 9H13L9.5 12.6Z" fill="#000"/>
<g font-family="Liberation Sans, sans-serif"><text x="17.46" y="14" fill="#000" font-size="10" textLength="50.69" lengthAdjust="spacingAndGlyphs">USDJPY,H4</text><text x="74.26" y="14" fill="#000" font-size="10" textLength="33.32" lengthAdjust="spacingAndGlyphs">112.613</text><text x="110.76" y="14" fill="#000" font-size="10" textLength="33.32" lengthAdjust="spacingAndGlyphs">112.769</text><text x="146.56" y="14" fill="#000" font-size="10" textLength="33.32" lengthAdjust="spacingAndGlyphs">112.591</text><text x="182.76" y="14" fill="#000" font-size="10" textLength="33.32" lengthAdjust="spacingAndGlyphs">112.628</text><text x="733.66" y="38" fill="#000" font-size="10" textLength="33.32" lengthAdjust="spacingAndGlyphs">114.270</text><text x="733.66" y="71" fill="#000" font-size="10" textLength="33.32" lengthAdjust="spacingAndGlyphs">113.715</text><text x="733.66" y="104" fill="#000" font-size="10" textLength="33.32" lengthAdjust="spacingAndGlyphs">113.145</text><text x="733.66" y="170" fill="#000" font-size="10" textLength="33.32" lengthAdjust="spacingAndGlyphs">112.035</text><text x="733.63" y="203" fill="#000" font-size="10" textLength="33.62" lengthAdjust="spacingAndGlyphs">111.480</text><text x="733.66" y="236" fill="#000" font-size="10" textLength="33.32" lengthAdjust="spacingAndGlyphs">110.925</text><text x="733.66" y="269" fill="#000" font-size="10" textLength="33.32" lengthAdjust="spacingAndGlyphs">110.370</text><text x="733.69" y="302" fill="#000" font-size="10" textLength="33.06" lengthAdjust="spacingAndGlyphs">109.815</text><text x="733.69" y="335" fill="#000" font-size="10" textLength="33.06" lengthAdjust="spacingAndGlyphs">109.260</text><text x="733.69" y="368" fill="#000" font-size="10" textLength="33.06" lengthAdjust="spacingAndGlyphs">108.705</text><text x="733.34" y="135" fill="#fff" font-size="10" textLength="33.84" lengthAdjust="spacingAndGlyphs">112.628</text><text x="6.63" y="382" fill="#000" font-size="10" textLength="61.84" lengthAdjust="spacingAndGlyphs">MACD(5,35,5)</text><text x="71.70" y="382" fill="#000" font-size="10" textLength="28.93" lengthAdjust="spacingAndGlyphs">-0.5739</text><text x="105.30" y="382" fill="#000" font-size="10" textLength="30.84" lengthAdjust="spacingAndGlyphs">-0.5201</text><text x="732.50" y="380" fill="#000" font-size="10" textLength="27.53" lengthAdjust="spacingAndGlyphs">0.9004</text><text x="731.50" y="403" fill="#000" font-size="10" textLength="18.44" lengthAdjust="spacingAndGlyphs">0.00</text><text x="732.20" y="403" fill="#000" font-size="10" textLength="4.45" lengthAdjust="spacingAndGlyphs">0</text><text x="732.50" y="416.5" fill="#000" font-size="10" textLength="29.93" lengthAdjust="spacingAndGlyphs">-0.6303</text><text x="6.54" y="435" fill="#000" font-size="10" textLength="33.10" lengthAdjust="spacingAndGlyphs">RSI(14)</text><text x="42.00" y="435" fill="#000" font-size="10" textLength="32.57" lengthAdjust="spacingAndGlyphs">37.9611</text><text x="731.67" y="432.5" fill="#000" font-size="10" textLength="15.58" lengthAdjust="spacingAndGlyphs">100</text><text x="731.07" y="441.5" fill="#000" font-size="10" textLength="9.23" lengthAdjust="spacingAndGlyphs">70</text><text x="731.90" y="460.5" fill="#000" font-size="10" textLength="8.39" lengthAdjust="spacingAndGlyphs">30</text><text x="732.30" y="468" fill="#000" font-size="10" textLength="4.45" lengthAdjust="spacingAndGlyphs">0</text><text x="1.79" y="485" fill="#000" font-size="10" textLength="49.83" lengthAdjust="spacingAndGlyphs">13 Jun 2017</text><text x="65.80" y="485" fill="#000" font-size="10" textLength="52.33" lengthAdjust="spacingAndGlyphs">16 Jun 00:00</text><text x="130.70" y="485" fill="#000" font-size="10" textLength="52.33" lengthAdjust="spacingAndGlyphs">20 Jun 16:00</text><text x="194.70" y="485" fill="#000" font-size="10" textLength="52.33" lengthAdjust="spacingAndGlyphs">23 Jun 08:00</text><text x="258.70" y="485" fill="#000" font-size="10" textLength="52.33" lengthAdjust="spacingAndGlyphs">28 Jun 16:00</text><text x="322.70" y="485" fill="#000" font-size="10" textLength="52.33" lengthAdjust="spacingAndGlyphs">30 Jun 16:00</text><text x="385.80" y="485" fill="#000" font-size="10" textLength="44.29" lengthAdjust="spacingAndGlyphs">5 Jul 08:00</text><text x="449.80" y="485" fill="#000" font-size="10" textLength="49.32" lengthAdjust="spacingAndGlyphs">10 Jul 00:00</text><text x="513.80" y="485" fill="#000" font-size="10" textLength="49.32" lengthAdjust="spacingAndGlyphs">12 Jul 16:00</text><text x="577.80" y="485" fill="#000" font-size="10" textLength="49.32" lengthAdjust="spacingAndGlyphs">17 Jul 08:00</text></g>
</svg></body></html>
